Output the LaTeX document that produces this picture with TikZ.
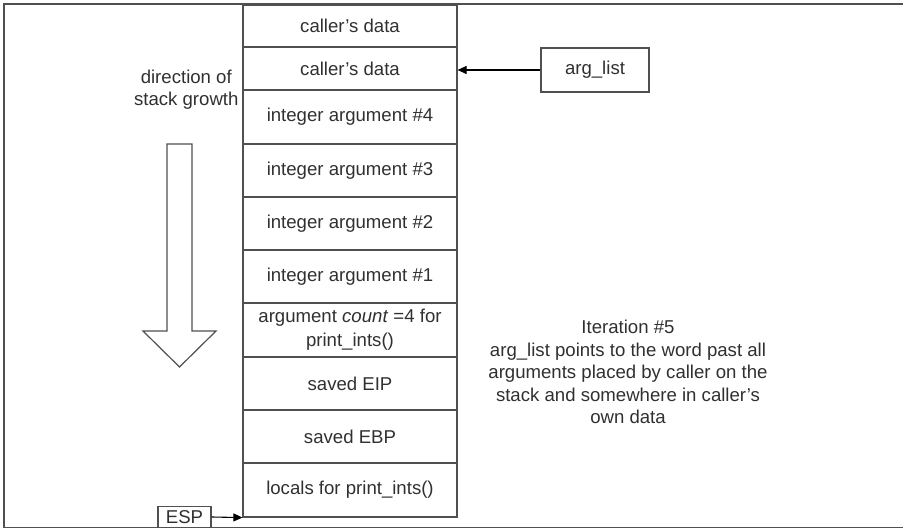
\documentclass[tikz,border=0pt]{standalone}
\usepackage{fontspec}
\setmainfont{Liberation Sans}
\usetikzlibrary{arrows.meta}
\definecolor{lc}{HTML}{505050}
\definecolor{tc}{HTML}{303030}
\begin{document}
\begin{tikzpicture}[x=1pt,y=-1pt,
  cell/.style={draw=lc,line width=1.2pt,minimum width=214pt,inner sep=0pt,align=center,font=\fontsize{18.6}{24}\selectfont,text=tc},
  lbl/.style={draw=lc,line width=1.2pt,inner sep=0pt,align=center,font=\fontsize{18.6}{22}\selectfont,text=tc},
  txt/.style={align=center,font=\fontsize{18.6}{22.6}\selectfont,text=tc},
  ptr/.style={-{Triangle[length=9pt,width=8pt]},line width=1.1pt,black}]
\useasboundingbox (0,0) rectangle (903,529);
\draw[lc,line width=1.3pt] (4,4) rectangle (910,527.5);
% stack cells
\node[cell,minimum height=42pt] (c1) at (350,26) {caller's data};
\node[cell,minimum height=43pt] (c2) at (350,68.5) {caller's data};
\node[cell,minimum height=54pt] (c3) at (350,117) {integer argument \#4};
\node[cell,minimum height=53pt] (c4) at (350,170.5) {integer argument \#3};
\node[cell,minimum height=53pt] (c5) at (350,223.5) {integer argument \#2};
\node[cell,minimum height=53pt] (c6) at (350,276.5) {integer argument \#1};
\node[cell,minimum height=54pt] (c7) at (350,330) {argument \textit{count} =4 for\\print\_ints()};
\node[cell,minimum height=53pt] (c8) at (350,383.5) {saved EIP};
\node[cell,minimum height=53pt] (c9) at (350,436.5) {saved EBP};
\node[cell,minimum height=54pt] (c10) at (350,490) {locals for print\_ints()};
% arg_list
\node[lbl,minimum width=108pt,minimum height=44pt] (al) at (595,70) {arg\_list};
\draw[ptr] (al.west) -- (al.west -| c2.east);
% ESP
\node[lbl,minimum width=53pt,minimum height=21pt] (esp) at (184.5,517) {ESP};
\draw[ptr] (esp.east) -- (c10.south west);
% direction text
\node[txt,anchor=east,font=\fontsize{18.6}{22}\selectfont] (dir) at (242,90) {direction of\\stack growth};
% hollow arrow
\draw[lc,line width=1.2pt,fill=white] (167,144) -- (192,144) -- (192,331) -- (216,331) -- (179.5,367) -- (143,331) -- (167,331) -- cycle;
% iteration text
\node[txt] (it) at (628,372) {Iteration \#5\\arg\_list points to the word past all\\arguments placed by caller on the\\stack and somewhere in caller's\\own data};
\end{tikzpicture}
\end{document}
